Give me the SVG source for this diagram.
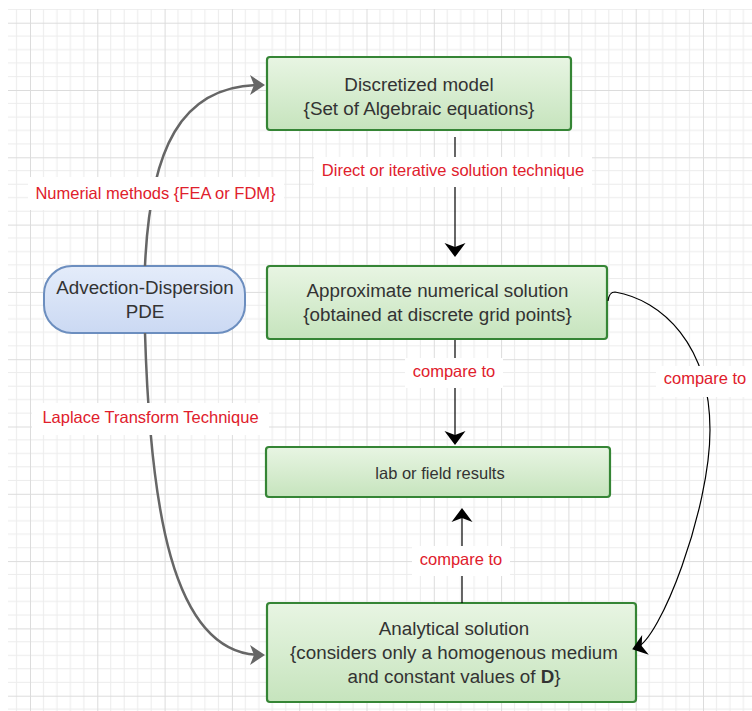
<svg xmlns="http://www.w3.org/2000/svg" width="752" height="711" viewBox="0 0 752 711">
<defs>
<style>
.t{font-family:"Liberation Sans",Arial,sans-serif;fill:#333;font-size:18.8px;text-anchor:middle}
.ts{font-size:16.5px}
.lbl{font-family:"Liberation Sans",Arial,sans-serif;fill:#e0202c;font-size:16.5px;text-anchor:middle}
.bg{fill:#fff}
.green{fill:url(#gg);stroke:#358535;stroke-width:2.2}
.blue{fill:url(#bg);stroke:#6c8ebf;stroke-width:2}
.cb{fill:none;stroke:#000;stroke-width:1.2}
.cg{fill:none;stroke:#666;stroke-width:2.5}
</style>
<linearGradient id="gg" x1="0" y1="0" x2="0" y2="1">
<stop offset="0" stop-color="#e8f5e3"/>
<stop offset="1" stop-color="#c6e4bd"/>
</linearGradient>
<linearGradient id="bg" x1="0" y1="0" x2="0" y2="1">
<stop offset="0" stop-color="#e4ecfa"/>
<stop offset="1" stop-color="#cbd9f3"/>
</linearGradient>
<pattern id="grid" patternUnits="userSpaceOnUse" x="30" y="22.7" width="67.3" height="67.3">
<path d="M13.46,0V67.3M26.92,0V67.3M40.38,0V67.3M53.84,0V67.3M0,13.46H67.3M0,26.92H67.3M0,40.38H67.3M0,53.84H67.3" stroke="#ececec" stroke-width="1" fill="none"/>
<path d="M0.5,0V67.3M0,0.5H67.3" stroke="#dcdcdc" stroke-width="1" fill="none"/>
</pattern>
<marker id="ab" markerUnits="userSpaceOnUse" viewBox="-16 -12 20 24" refX="-4" refY="0" markerWidth="20" markerHeight="24" orient="auto">
<path d="M0,0 L-14,-10.5 L-10,0 L-14,10.5 Z" fill="#000"/>
</marker>
<marker id="ag" markerUnits="userSpaceOnUse" viewBox="-16 -12 20 24" refX="-4" refY="0" markerWidth="20" markerHeight="24" orient="auto">
<path d="M0,0 L-15,-10 L-11,0 L-15,10 Z" fill="#666"/>
</marker>
</defs>
<rect width="752" height="711" fill="#fff"/>
<rect x="8" y="9" width="744" height="702" fill="url(#grid)"/>

<g id="node-discretized">
<rect class="green" x="267" y="57" width="304" height="73" rx="3"/>
<text class="t" x="419" y="90.5">Discretized model</text>
<text class="t" x="419" y="114.5">{Set of Algebraic equations}</text>
</g>
<g id="node-approx">
<rect class="green" x="267" y="266" width="340" height="73" rx="3"/>
<text class="t" x="437.5" y="297">Approximate numerical solution</text>
<text class="t" x="437.5" y="321">{obtained at discrete grid points}</text>
</g>
<g id="node-lab">
<rect class="green" x="266" y="447" width="344" height="50" rx="3"/>
<text class="t ts" x="440" y="479">lab or field results</text>
</g>
<g id="node-analytical">
<rect class="green" x="267" y="603" width="369" height="99" rx="3"/>
<text class="t" x="454" y="635">Analytical solution</text>
<text class="t" x="454" y="659">{considers only a homogenous medium</text>
<text class="t" x="454" y="683">and constant values of <tspan font-weight="bold">D</tspan>}</text>
</g>
<g id="node-pde">
<rect class="blue" x="44" y="266" width="201" height="67" rx="28"/>
<text class="t" x="145" y="294">Advection-Dispersion</text>
<text class="t" x="145" y="318">PDE</text>
</g>

<g id="connectors">
<path class="cg" d="M145,266 C150,150 180,85 261,85" marker-end="url(#ag)"/>
<path class="cg" d="M145,333 C150,500 170,655 261,655" marker-end="url(#ag)"/>
<path class="cb" d="M455,137 L455,253" marker-end="url(#ab)"/>
<path class="cb" d="M455,340 L455,441" marker-end="url(#ab)"/>
<path class="cb" d="M462,603 L462,512" marker-end="url(#ab)"/>
<path class="cb" d="M608,301 Q609,292 615,292 C662,300 710,345 710,430 C710,510 660,640 636,648" marker-end="url(#ab)"/>

<rect class="bg" x="314" y="157" width="278" height="30"/>
<text class="lbl" x="453" y="176">Direct or iterative solution technique</text>
<rect class="bg" x="28" y="177" width="256" height="33"/>
<text class="lbl" x="155.5" y="199">Numerial methods {FEA or FDM}</text>
<rect class="bg" x="32" y="403" width="237" height="32"/>
<text class="lbl" x="150.5" y="423">Laplace Transform Technique</text>
<rect class="bg" x="405" y="358" width="98" height="30"/>
<text class="lbl" x="454" y="377">compare to</text>
<rect class="bg" x="656" y="366" width="96" height="31"/>
<text class="lbl" x="705" y="384">compare to</text>
<rect class="bg" x="412" y="546" width="98" height="30"/>
<text class="lbl" x="461" y="565">compare to</text>
</g>
</svg>
